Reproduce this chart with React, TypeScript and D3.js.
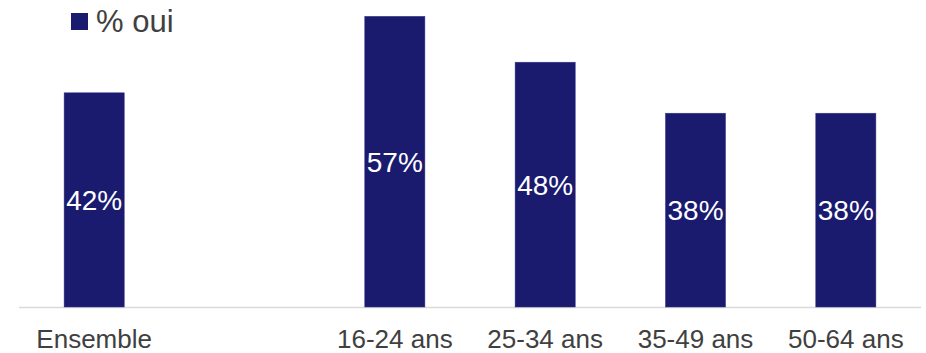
import React from "react";
import * as d3 from "d3";

const categories = ["Ensemble", "", "16-24 ans", "25-34 ans", "35-49 ans", "50-64 ans"];
const values: (number | null)[] = [42, null, 57, 48, 38, 38];
const seriesName = "% oui";

const W = 926;
const H = 353;
const BAR = "#1a1a6f";
const TEXT = "#404040";
const FONT = "'Liberation Sans', Arial, sans-serif";

export default function App() {
  const keys = categories.map((c, i) => c + "_" + i);
  const x = d3.scaleBand<string>().domain(keys).range([19, 921]).paddingInner(0.6).paddingOuter(0.3);
  const y = d3.scaleLinear().domain([0, 60]).range([307, 1]);
  return (
    <div style={{ position: "fixed", left: 0, top: 0 }}>
      <svg width={W} height={H} style={{ display: "block", background: "#fff" }}>
        <line x1={19} x2={921} y1={307.5} y2={307.5} stroke="#d9d9d9" strokeWidth={1.5} />
        {values.map((v, i) => {
          if (v == null) return null;
          const bx = x(keys[i])!;
          const top = y(v);
          const bottom = y(0);
          const cy = (top + bottom) / 2;
          return (
            <g key={i}>
              <rect x={bx} y={top} width={x.bandwidth()} height={bottom - top} fill={BAR} stroke="#3a3a8a" strokeWidth={0.5} />
              <text x={bx + x.bandwidth() / 2} y={cy + 10.3} textAnchor="middle" fill="#fff" fontFamily={FONT} fontSize={28}>
                {v}%
              </text>
            </g>
          );
        })}
        {categories.map((c, i) =>
          c ? (
            <text key={"t" + i} x={x(keys[i])! + x.bandwidth() / 2} y={348} textAnchor="middle" fill={TEXT} fontFamily={FONT} fontSize={26}>
              {c}
            </text>
          ) : null
        )}
        <rect x={71} y={13} width={17} height={17} fill={BAR} />
        <text x={96} y={32} fill={TEXT} fontFamily={FONT} fontSize={31}>
          {seriesName}
        </text>
      </svg>
    </div>
  );
}
